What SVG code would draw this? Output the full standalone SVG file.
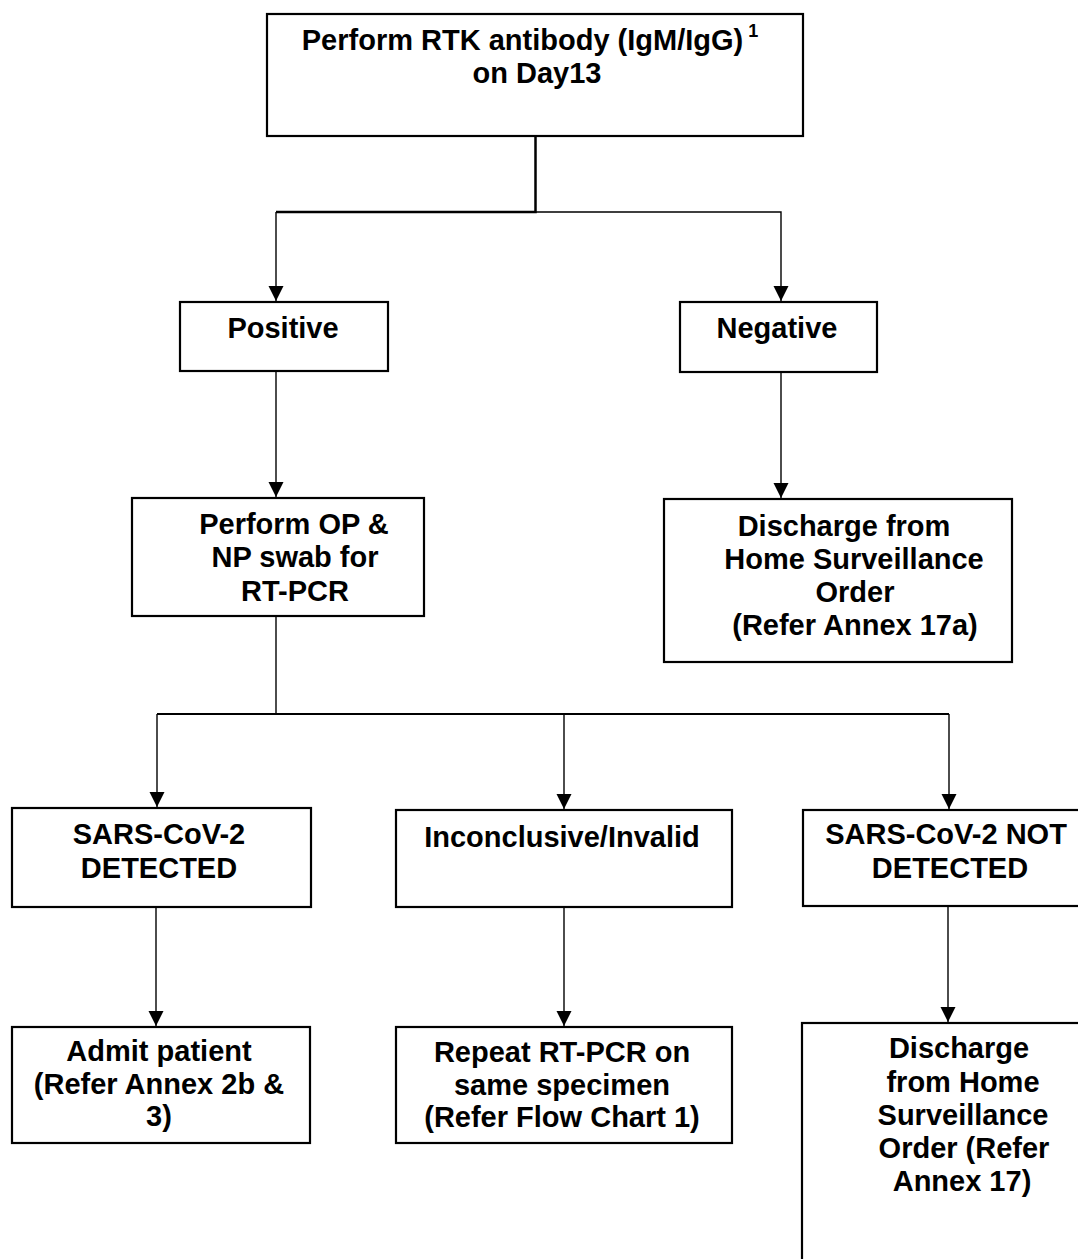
<svg xmlns="http://www.w3.org/2000/svg" width="1078" height="1259" viewBox="0 0 1078 1259">
<style>
.box{fill:#fff;stroke:#000;stroke-width:2.2}
.t{font-family:"Liberation Sans",Arial,sans-serif;font-weight:bold;font-size:29px;fill:#000;text-anchor:middle}
.c{fill:none;stroke:#000;stroke-width:1.4}
.ct{fill:none;stroke:#000;stroke-width:2.5}
.a{marker-end:url(#arr)}
</style>
<defs>
<marker id="arr" markerUnits="userSpaceOnUse" markerWidth="16" markerHeight="16" viewBox="0 0 16 16" refX="15" refY="8" orient="auto">
<path d="M0 0.5 L15 8 L0 15.5 Z" fill="#000"/>
</marker>
</defs>
<rect width="1078" height="1259" fill="#fff"/>
<g id="connectors">
<path class="ct" d="M535.5 136 V212 H276"/>
<path class="c a" d="M276 212 V301"/>
<path class="c a" d="M535.5 212 H781 V301"/>
<path class="c a" d="M276 371 V497"/>
<path class="c a" d="M781 372 V498"/>
<path class="c" d="M276 616 V714"/>
<path class="ct" style="stroke-width:2" d="M157 714 H949"/>
<path class="c a" d="M157 714 V807"/>
<path class="c a" d="M564 714 V809"/>
<path class="c a" d="M949 714 V809"/>
<path class="c a" d="M156 907 V1026"/>
<path class="c a" d="M564 907 V1026"/>
<path class="c a" d="M948 906 V1022"/>
</g>
<g id="n-start">
<rect class="box" x="267" y="14" width="536" height="122"/>
<text class="t" x="530" y="50">Perform RTK antibody (IgM/IgG)<tspan font-size="18" dy="-13"> 1</tspan></text>
<text class="t" x="537" y="83">on Day13</text>
</g>
<g id="n-positive">
<rect class="box" x="180" y="302" width="208" height="69"/>
<text class="t" x="283" y="338">Positive</text>
</g>
<g id="n-negative">
<rect class="box" x="680" y="302" width="197" height="70"/>
<text class="t" x="777" y="338">Negative</text>
</g>
<g id="n-swab">
<rect class="box" x="132" y="498" width="292" height="118"/>
<text class="t" x="294" y="534">Perform OP &amp;</text>
<text class="t" x="295" y="567">NP swab for</text>
<text class="t" x="295" y="601">RT-PCR</text>
</g>
<g id="n-discharge-a">
<rect class="box" x="664" y="499" width="348" height="163"/>
<text class="t" x="844" y="536">Discharge from</text>
<text class="t" x="854" y="569">Home Surveillance</text>
<text class="t" x="855" y="602">Order</text>
<text class="t" x="855" y="635">(Refer Annex 17a)</text>
</g>
<g id="n-detected">
<rect class="box" x="12" y="808" width="299" height="99"/>
<text class="t" x="159" y="844">SARS-CoV-2</text>
<text class="t" x="159" y="878">DETECTED</text>
</g>
<g id="n-inconclusive">
<rect class="box" x="396" y="810" width="336" height="97"/>
<text class="t" x="562" y="847">Inconclusive/Invalid</text>
</g>
<g id="n-notdetected">
<rect class="box" x="803" y="810" width="300" height="96"/>
<text class="t" x="946" y="844">SARS-CoV-2 NOT</text>
<text class="t" x="950" y="878">DETECTED</text>
</g>
<g id="n-admit">
<rect class="box" x="12" y="1027" width="298" height="116"/>
<text class="t" x="159" y="1061">Admit patient</text>
<text class="t" x="159" y="1094">(Refer Annex 2b &amp;</text>
<text class="t" x="159" y="1126">3)</text>
</g>
<g id="n-repeat">
<rect class="box" x="396" y="1027" width="336" height="116"/>
<text class="t" x="562" y="1062">Repeat RT-PCR on</text>
<text class="t" x="562" y="1095">same specimen</text>
<text class="t" x="562" y="1127">(Refer Flow Chart 1)</text>
</g>
<g id="n-discharge-b">
<rect class="box" x="802" y="1023" width="300" height="300"/>
<text class="t" x="959" y="1058">Discharge</text>
<text class="t" x="963" y="1092">from Home</text>
<text class="t" x="963" y="1125">Surveillance</text>
<text class="t" x="964" y="1158">Order (Refer</text>
<text class="t" x="962" y="1191">Annex 17)</text>
</g>
</svg>
